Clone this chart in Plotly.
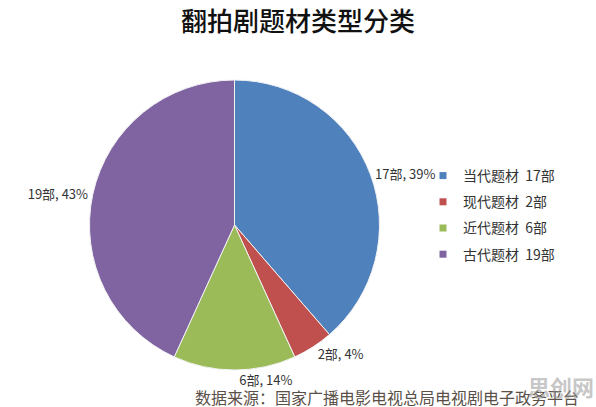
import plotly.graph_objects as go

categories = ["当代题材", "现代题材", "近代题材", "古代题材"]
counts = [17, 2, 6, 19]
pct_labels = ["39%", "4%", "14%", "43%"]
colors = ["#4F81BD", "#C0504D", "#9BBB59", "#8064A2"]

W, H = 596, 407
label_text = [f"{c}部, {p}" for c, p in zip(counts, pct_labels)]
legend_names = [f"{n}\u00a0\u00a0{c}部" for n, c in zip(categories, counts)]

fig = go.Figure()
fig.add_trace(go.Pie(
    labels=legend_names,
    values=counts,
    text=label_text,
    textinfo="text",
    textposition="outside",
    sort=False,
    direction="clockwise",
    rotation=0,
    marker=dict(colors=colors, line=dict(color="#f2f2f2", width=1)),
    outsidetextfont=dict(size=13, color="#333333", family="Noto Sans CJK SC"),
    domain=dict(x=[88 / W, 381 / W], y=[1 - 370 / H, 1 - 80 / H]),
    showlegend=False,
    hoverinfo="label+percent",
))

for name, col in zip(legend_names, colors):
    fig.add_trace(go.Scatter(
        x=[None], y=[None], mode="markers", name=name, legendgroup=name,
        marker=dict(symbol="square", size=7, color=col),
    ))

fig.update_layout(
    width=W, height=H,
    margin=dict(l=0, r=0, t=0, b=0),
    paper_bgcolor="white", plot_bgcolor="white",
    xaxis=dict(visible=False), yaxis=dict(visible=False),
    title=dict(text="翻拍剧题材类型分类", x=0.5, xanchor="center", y=1 - 22 / H, yanchor="middle",
               font=dict(size=26, color="#111111", family="Noto Sans CJK SC", weight=500)),
    legend=dict(x=423 / W, y=1 - 160 / H, xanchor="left", yanchor="top",
                font=dict(size=14, color="#333333", family="Noto Sans CJK SC"),
                tracegroupgap=5, itemwidth=30, bgcolor="rgba(0,0,0,0)"),
    annotations=[
        dict(text="数据来源：国家广播电影电视总局电视剧电子政务平台", x=193 / W, y=1 - 397 / H,
             xref="paper", yref="paper", xanchor="left", yanchor="middle", showarrow=False,
             font=dict(size=16, color="#5a5048", family="Noto Sans CJK SC")),
        dict(text="<b>思创网</b>", x=1.0, y=1 - 386 / H, xref="paper", yref="paper",
             xanchor="right", yanchor="middle", showarrow=False,
             font=dict(size=22, color="rgba(150,150,150,0.55)", family="Noto Sans CJK SC")),
    ],
)

fig.write_html("out.html", config={"displayModeBar": False},
               post_script="document.body.style.margin='0';document.body.style.overflow='hidden';")
